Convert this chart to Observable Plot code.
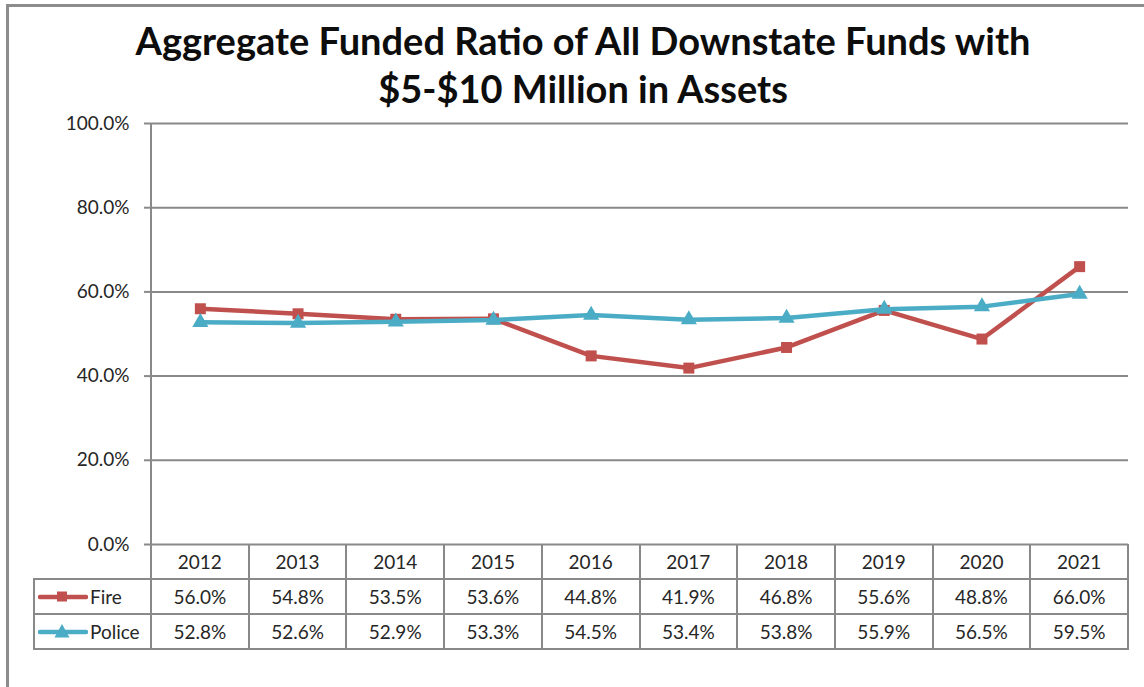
<!DOCTYPE html>
<html>
<head>
<meta charset="utf-8">
<script src="https://cdn.jsdelivr.net/npm/d3@7"></script>
<script src="https://cdn.jsdelivr.net/npm/@observablehq/plot@0.6"></script>
<style>
  html, body { margin:0; padding:0; background:#fff; }
  #wrap { position:relative; width:1144px; height:687px; overflow:hidden; background:#fff; font-family: Lato, "Noto Sans", sans-serif; }
  #frame { position:absolute; left:6px; top:4px; width:1300px; height:900px; border-left:3px solid #8c8c8c; border-top:3px solid #8c8c8c; }
  #title { position:absolute; left:0; width:1166px; top:16px; text-align:center; font-weight:700; font-size:38px; line-height:48px; color:#0d0d0d; }
  #chart { position:absolute; left:0; top:0; }
  #chart svg g[aria-label^="y-axis"] line, #chart svg g[aria-label^="y-axis"] path { stroke:#898989; stroke-width:2; }
  .ln { position:absolute; background:#898989; }
  .cell { position:absolute; display:flex; align-items:center; justify-content:center; font-size:19px; color:#262626; }
  .lab { position:absolute; display:flex; align-items:center; font-size:19px; color:#262626; }
</style>
</head>
<body>
<div id="wrap">
  <div id="frame"></div>
  <div id="chart"></div>
  <div id="title">Aggregate Funded Ratio of All Downstate Funds with<br>$5-$10 Million in Assets</div>
  <div id="table"></div>
</div>
<script>
const years = ["2012","2013","2014","2015","2016","2017","2018","2019","2020","2021"];
const fire = [56.0,54.8,53.5,53.6,44.8,41.9,46.8,55.6,48.8,66.0];
const police = [52.8,52.6,52.9,53.3,54.5,53.4,53.8,55.9,56.5,59.5];
const seriesNames = ["Fire","Police"];
const seriesColors = ["#C0504D","#4BACC6"];
const seriesSymbols = ["square","triangle"];
const yTicks = [0,20,40,60,80,100];

const fireData = years.map((year,i)=>({year, series:"Fire", value:fire[i]}));
const policeData = years.map((year,i)=>({year, series:"Police", value:police[i]}));
const fmt = d => d.toFixed(1) + "%";

const chart = Plot.plot({
  width:1144, height:560,
  marginLeft:151, marginRight:16, marginTop:123, marginBottom:16,
  style:{fontFamily:"Lato, 'Noto Sans', sans-serif", fontSize:"19px", color:"#262626", background:"transparent", overflow:"visible"},
  x:{type:"band", domain:years, padding:0, round:false, axis:null},
  y:{domain:[0,100], ticks:yTicks, tickFormat:fmt, tickSize:7, tickPadding:15, label:null},
  color:{domain:seriesNames, range:seriesColors},
  marks:[
    Plot.ruleY(yTicks, {stroke:"#898989", strokeWidth:2}),
    Plot.line(fireData, {x:"year", y:"value", stroke:"series", strokeWidth:4.5}),
    Plot.dot(fireData, {x:"year", y:"value", fill:"series", symbol:"square", r:6.2}),
    Plot.line(policeData, {x:"year", y:"value", stroke:"series", strokeWidth:4.5}),
    Plot.dot(policeData, {x:"year", y:"value", fill:"series", symbol:"triangle", r:6})
  ]
});
document.getElementById("chart").appendChild(chart);

const sx = chart.scale("x"), sy = chart.scale("y");
const bw = sx.bandwidth;
const x0 = sx.range[0], x1 = sx.range[1];
const yTop = sy.apply(100), yZero = sy.apply(0);

// left axis line
d3.select(chart).append("line")
  .attr("x1", x0).attr("x2", x0).attr("y1", yTop).attr("y2", yZero)
  .attr("stroke", "#898989").attr("stroke-width", 2);

// data table
const tbl = d3.select("#table");
const rowH = 35;
const legendLeft = 34;
function hline(xa, xb, y){ tbl.append("div").attr("class","ln").style("left",xa+"px").style("top",(y-1)+"px").style("width",(xb-xa)+"px").style("height","2px"); }
function vline(x, ya, yb){ tbl.append("div").attr("class","ln").style("left",(x-1)+"px").style("top",ya+"px").style("width","2px").style("height",(yb-ya)+"px"); }

const rows = [{name:"Fire", values:fire}, {name:"Police", values:police}];
hline(legendLeft, x1, yZero + rowH);
hline(legendLeft, x1, yZero + 2*rowH);
hline(legendLeft, x1+1, yZero + 3*rowH);
vline(legendLeft, yZero + rowH - 1, yZero + 3*rowH + 1);
years.forEach((yr,i) => {
  const xs = sx.apply(yr);
  vline(xs, yZero, yZero + 3*rowH);
  tbl.append("div").attr("class","cell").style("left",xs+"px").style("top",yZero+"px").style("width",bw+"px").style("height",rowH+"px").text(yr);
  rows.forEach((r,j) => {
    tbl.append("div").attr("class","cell").style("left",xs+"px").style("top",(yZero+(j+1)*rowH)+"px").style("width",bw+"px").style("height",rowH+"px").text(fmt(r.values[i]));
  });
});
vline(x1, yZero, yZero + 3*rowH + 1);

rows.forEach((r,j) => {
  const top = yZero + (j+1)*rowH;
  const c = seriesColors[j];
  const sym = seriesSymbols[j];
  const key = sym === "square"
    ? `<rect x="19" y="2.5" width="10" height="10" fill="${c}"/>`
    : `<path d="M24,0 L31.5,13.5 L16.5,13.5 Z" fill="${c}"/>`;
  const svg = `<svg width="50" height="16" style="margin-right:2px"><line x1="2" x2="48" y1="8" y2="8" stroke="${c}" stroke-width="4.5" stroke-linecap="round"/>${key}</svg>`;
  tbl.append("div").attr("class","lab").style("left",(legendLeft+4)+"px").style("top",top+"px").style("height",rowH+"px").html(svg + "<span>" + r.name + "</span>");
});
</script>
</body>
</html>
